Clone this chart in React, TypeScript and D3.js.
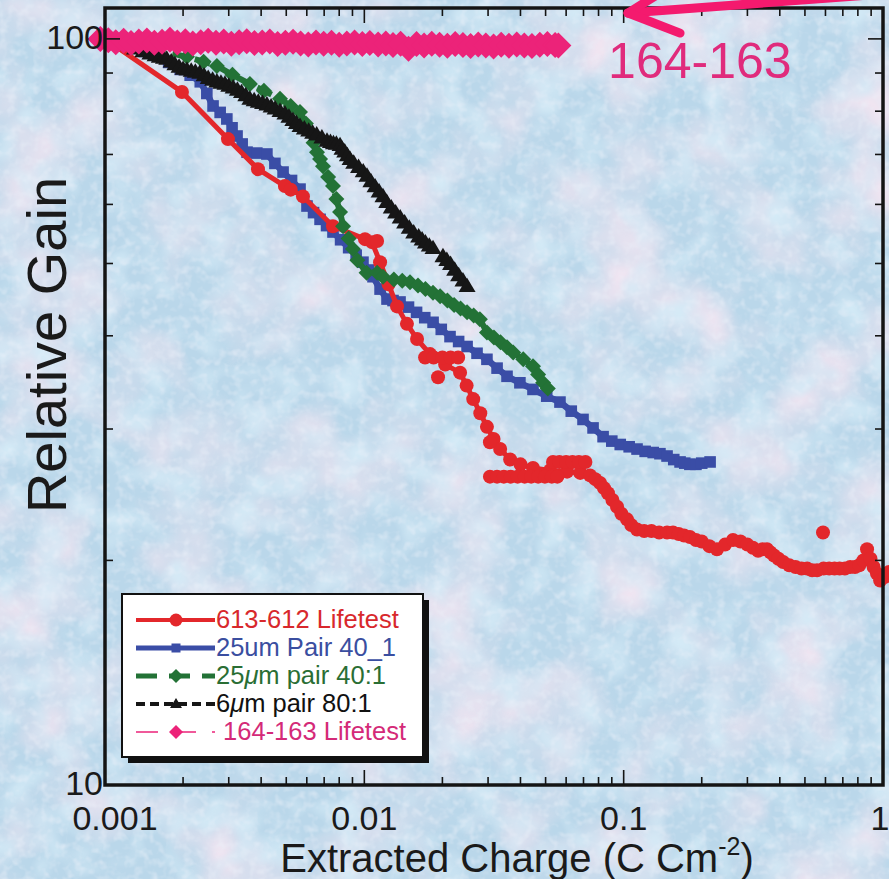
import React from "react";
import * as d3 from "d3";

type P = [number, number];

// ---------- data ----------
const lifetest613: P[] = [
  [0.001, 100], [0.00198, 84.9], [0.00298, 73.4], [0.00389, 66.9], [0.00494, 63.5], [0.0052, 62.8],
  [0.0058, 61.5], [0.00757, 56.1], [0.01006, 53.9], [0.0107, 53.4], [0.0115, 50.2], [0.0124, 46.9],
  [0.01337, 43.8], [0.0146, 41.5], [0.01597, 39.6], [0.01792, 37.8], [0.0205, 36.6], [0.0234, 35.7],
  [0.0248, 34.3], [0.0263, 32.9], [0.028, 31.5], [0.0297, 30.2], [0.0315, 29.1], [0.0334, 28.2],
  [0.0365, 27.3], [0.04, 26.9], [0.0447, 26.6], [0.052, 26.4], [0.0605, 26.3], [0.068, 26.2],
  [0.0742, 26.0], [0.0777, 25.7], [0.0811, 25.4], [0.084, 25.0], [0.087, 24.6], [0.0905, 24.1],
  [0.0943, 23.6], [0.098, 23.1], [0.103, 22.7], [0.107, 22.3], [0.1126, 22.0], [0.12, 21.9],
  [0.128, 21.9], [0.137, 21.8], [0.147, 21.8], [0.155, 21.8], [0.163, 21.7], [0.171, 21.6],
  [0.18, 21.5], [0.19, 21.3], [0.2, 21.2], [0.214, 20.9], [0.229, 20.7], [0.246, 21.0], [0.264, 21.3],
  [0.282, 21.2], [0.3, 21.0], [0.315, 20.8], [0.33, 20.6], [0.343, 20.7], [0.357, 20.7], [0.368, 20.5],
  [0.38, 20.3], [0.395, 20.1], [0.412, 19.9], [0.435, 19.7], [0.46, 19.6], [0.485, 19.5], [0.51, 19.5],
  [0.533, 19.4], [0.557, 19.4], [0.59, 19.5], [0.62, 19.5], [0.65, 19.5], [0.68, 19.5], [0.713, 19.5],
  [0.747, 19.6], [0.78, 19.6], [0.81, 19.7], [0.84, 20.0], [0.868, 20.7], [0.895, 20.1], [0.92, 19.6],
  [0.948, 19.2], [0.975, 18.8], [1.015, 19.0], [1.056, 19.3],
];
const lifetest613Extra: P[] = [
  [0.0112, 53.6], [0.01715, 37.4], [0.0185, 37.4], [0.02, 37.4], [0.0215, 37.4], [0.023, 37.4],
  [0.01924, 35.2], [0.0305, 28.8], [0.0305, 25.9], [0.0325, 25.9], [0.0345, 25.9], [0.0367, 25.9],
  [0.039, 25.9], [0.0415, 25.9], [0.044, 25.9], [0.0468, 25.9], [0.0497, 25.9], [0.0528, 25.9],
  [0.0555, 25.9], [0.0534, 27.1], [0.0565, 27.1], [0.06, 27.1], [0.0635, 27.1], [0.0672, 27.1],
  [0.0712, 27.1], [0.587, 21.8],
];
const pair25um: P[] = [
  [0.001, 100], [0.00113, 98.8], [0.00128, 97.5], [0.00142, 96.2], [0.00159, 94.9], [0.00176, 93.0],
  [0.00195, 91.0], [0.00213, 89.4], [0.00233, 87.6], [0.00247, 84.5], [0.00261, 81.3], [0.00278, 79.7],
  [0.00295, 78.1], [0.00309, 76.0], [0.00323, 74.1], [0.00338, 72.3], [0.00353, 70.5], [0.00385, 70.3],
  [0.00421, 70.1], [0.00452, 68.1], [0.00486, 66.3], [0.00524, 64.6], [0.00565, 62.9], [0.00601, 59.7],
  [0.00637, 58.5], [0.00675, 57.3], [0.00715, 56.2], [0.00757, 55.1], [0.0081, 53.8], [0.0087, 52.5],
  [0.0093, 51.3], [0.00988, 50.2], [0.0104, 49.0], [0.0108, 48.0], [0.0115, 46.2], [0.01223, 44.8],
  [0.0129, 44.6], [0.01373, 44.4], [0.0148, 43.7], [0.0159, 43.0], [0.0171, 42.3], [0.01841, 41.7],
  [0.0198, 40.8], [0.0214, 39.9], [0.0231, 39.3], [0.0249, 38.7], [0.0272, 37.9], [0.0297, 37.2],
  [0.0325, 36.2], [0.0355, 35.3], [0.0398, 34.6], [0.0447, 33.9], [0.0505, 33.2], [0.0568, 32.6],
  [0.0628, 31.7], [0.0697, 30.9], [0.0762, 30.1], [0.0833, 29.3], [0.09, 28.9], [0.097, 28.6],
  [0.105, 28.4], [0.1126, 28.2], [0.121, 28.0], [0.13, 27.9], [0.138, 27.8], [0.147, 27.6],
  [0.156, 27.3], [0.165, 27.1], [0.172, 27.0], [0.18, 26.9], [0.19, 26.9], [0.2, 27.0], [0.2154, 27.1],
];
const pair25umMu: P[] = [
  [0.001, 100], [0.00125, 98.5], [0.0016, 96.5], [0.00207, 94.6], [0.0024, 93.2], [0.0027, 92.0],
  [0.0031, 89.5], [0.00362, 87.0], [0.0041, 85.2], [0.00473, 83.1], [0.0052, 81.3], [0.00565, 79.8],
  [0.00595, 77.0], [0.00617, 75.0], [0.00637, 72.6], [0.00657, 70.5], [0.00675, 69.0], [0.00693, 67.5],
  [0.00725, 65.3], [0.00757, 63.5], [0.0078, 61.0], [0.00806, 58.6], [0.00828, 56.1], [0.0087, 54.0],
  [0.00904, 52.3], [0.0094, 50.5], [0.0102, 48.6], [0.0112, 48.6], [0.0118, 48.0], [0.013, 47.6],
  [0.014, 47.4], [0.015, 47.2], [0.0161, 46.7], [0.0172, 46.2], [0.0184, 45.7], [0.0196, 45.2],
  [0.0209, 44.6], [0.0222, 44.0], [0.0235, 43.5], [0.0249, 43.0], [0.0264, 42.6], [0.0279, 42.1],
  [0.0297, 40.4], [0.0316, 39.8], [0.0335, 39.2], [0.0355, 38.6], [0.0375, 38.0], [0.041, 37.2],
  [0.0447, 36.4], [0.0468, 35.5], [0.0489, 34.6], [0.051, 34.0],
];
const pair6um: P[] = [
  [0.001, 100], [0.0011, 99], [0.0012, 98.2], [0.0013, 97.0], [0.0014, 96.2], [0.00149, 95.5],
  [0.00156, 95.0], [0.00162, 94.6], [0.00168, 94.3], [0.00173, 94.0], [0.0018, 93.2], [0.00186, 92.4],
  [0.00193, 91.7], [0.002, 91.1], [0.00207, 90.9], [0.00215, 90.6], [0.00223, 90.3], [0.00232, 90.0],
  [0.00241, 89.3], [0.0025, 88.6], [0.0026, 88.1], [0.0027, 87.6], [0.0028, 87.3], [0.0029, 87.0],
  [0.003, 86.5], [0.00312, 86.0], [0.00324, 85.4], [0.00336, 84.8], [0.00349, 84.0], [0.00362, 83.1],
  [0.00376, 82.7], [0.0039, 82.3], [0.00405, 82.0], [0.00421, 81.6], [0.00437, 81.1], [0.00453, 80.6],
  [0.00473, 80.0], [0.00494, 79.4], [0.00512, 78.6], [0.0053, 77.8], [0.00547, 77.1], [0.00565, 76.4],
  [0.00587, 75.8], [0.0061, 75.3], [0.00632, 74.8], [0.00655, 74.4], [0.00686, 73.7], [0.00718, 73.0],
  [0.0074, 72.7], [0.0076, 72.4], [0.0078, 72.3], [0.00806, 72.0], [0.0082, 71.2], [0.0084, 70.6],
  [0.0086, 69.8], [0.00881, 69.0], [0.0091, 68.2], [0.0095, 67.3], [0.0099, 66.4], [0.01024, 65.5],
  [0.0106, 64.4], [0.011, 63.4], [0.0114, 62.4], [0.0118, 61.5], [0.0122, 60.4], [0.0127, 59.4],
  [0.0132, 58.5], [0.01375, 57.6], [0.0143, 56.7], [0.0149, 55.8], [0.0155, 55.0], [0.0162, 54.3],
  [0.0167, 53.8], [0.0172, 53.3], [0.0178, 52.8], [0.0184, 52.4], [0.0192, NaN], [0.0201, 51.1],
  [0.0208, 50.5], [0.0215, 49.9], [0.0223, 49.0], [0.0231, 48.2], [0.024, 47.4], [0.0249, 46.6],
];
const lifetest164: P[] = [
  [0.00096, 100.0], [0.00103, 99.6], [0.0011, 99.0], [0.00118, 99.4], [0.00126, 98.7], [0.00135, 99.2],
  [0.00145, 99.5], [0.00155, 98.8], [0.00166, 99.1], [0.00178, 99.7], [0.0019, 98.9], [0.00204, 99.3],
  [0.00218, 98.6], [0.00234, 99.0], [0.0025, 99.4], [0.00268, 98.8], [0.00287, 99.2], [0.00307, 98.5],
  [0.00329, 99.0], [0.00352, 99.3], [0.00377, 98.7], [0.00404, 98.9], [0.00432, 99.2], [0.00463, 98.4],
  [0.00496, 98.8], [0.00531, 99.1], [0.00568, 98.6], [0.00608, 98.3], [0.00651, 98.9], [0.00697, 98.5],
  [0.00747, 98.8], [0.008, 98.2], [0.00856, 98.6], [0.00917, 98.9], [0.00982, 98.4], [0.0105, 98.7],
  [0.0113, 98.3], [0.0121, 98.6], [0.0129, 98.1], [0.0138, 98.5], [0.0148, 97.0], [0.0159, 98.4],
  [0.017, 98.0], [0.0182, 98.5], [0.0195, 98.2], [0.0209, 97.9], [0.0224, 98.4], [0.024, 98.1],
  [0.0257, 97.8], [0.0275, 98.3], [0.0294, 98.0], [0.0315, 97.7], [0.0337, 98.2], [0.0361, 97.9],
  [0.0387, 98.3], [0.0414, 98.0], [0.0443, 97.8], [0.0475, 98.2], [0.0508, 98.4], [0.0544, 98.1],
  [0.056, 98.0],
];

const xTickValues = [0.001, 0.01, 0.1, 1];
const xTickLabels = ["0.001", "0.01", "0.1", "1"];
const yTickValues = [10, 100];
const yTickLabels = ["10", "100"];
const minorMultipliers = [2, 3, 4, 5, 6, 7, 8, 9];

const legendLabels = ["613-612 Lifetest", "25um Pair 40_1", "25μm pair 40:1", "6μm pair 80:1", " 164-163 Lifetest"];
const xAxisTitle = "Extracted Charge (C Cm";
const xAxisSup = "-2";
const yAxisTitle = "Relative Gain";
const annotationText = "164-163";
// annotation anchor points in data units
const arrowTip: P = [0.104, 108.3];
const arrowTail: P = [1.12, 115.2];
const arrowWingUp: P = [0.144, 116.3];
const arrowWingDown: P = [0.165, 101.8];
const annotationPos: P = [0.0871, 88.6];

// ---------- styles ----------
const FONT = "'Liberation Sans', Arial, Helvetica, sans-serif";
const RED = "#e3272b";
const BLUE = "#3a4da6";
const GREEN = "#237236";
const BLACK = "#161616";
const PINK = "#ec2379";

type Series = {
  data: P[];
  color: string;
  textColor: string;
  width: number;
  legendWidth: number;
  dash?: string;
  legendDash?: string;
  marker: "circle" | "square" | "diamond" | "triangle";
  msize: number;
  legendSize: number;
};

const W = 889;
const H = 879;
const M = { left: 105, right: 883, top: 8, bottom: 785 };

function Marker({ kind, x, y, s, color }: { kind: string; x: number; y: number; s: number; color: string }) {
  if (!isFinite(y)) return null;
  if (kind === "circle") return <circle cx={x} cy={y} r={s} fill={color} />;
  if (kind === "square") return <rect x={x - s} y={y - s} width={2 * s} height={2 * s} fill={color} />;
  if (kind === "diamond")
    return <path d={`M${x},${y - s}L${x + s},${y}L${x},${y + s}L${x - s},${y}Z`} fill={color} />;
  const h = s * 1.7;
  return <path d={`M${x},${y - h * 0.6}L${x + s},${y + h * 0.4}L${x - s},${y + h * 0.4}Z`} fill={color} />;
}

export default function App() {
  const x = d3.scaleLog().domain([0.001, 1]).range([M.left, M.right]);
  const y = d3.scaleLog().domain([10, 110]).range([M.bottom, M.top]);
  const line = d3
    .line<P>()
    .defined((d) => isFinite(d[1]))
    .x((d) => x(d[0]))
    .y((d) => y(d[1]));

  const series: Series[] = [
    { data: lifetest613, color: RED, textColor: "#d8282c", width: 5, legendWidth: 4, marker: "circle", msize: 7, legendSize: 6.5 },
    { data: pair25um, color: BLUE, textColor: "#3a4ea0", width: 6.5, legendWidth: 5, marker: "square", msize: 5.8, legendSize: 4.5 },
    { data: pair25umMu, color: GREEN, textColor: "#2a6e34", width: 6, legendWidth: 5, dash: "16,7", legendDash: "21,12", marker: "diamond", msize: 8, legendSize: 7 },
    { data: pair6um, color: BLACK, textColor: "#111111", width: 8, legendWidth: 4, dash: "9,4", legendDash: "9,5", marker: "triangle", msize: 8.5, legendSize: 6 },
    { data: lifetest164, color: PINK, textColor: "#d42a78", width: 1.5, legendWidth: 1.5, dash: "20,14", legendDash: "22,16", marker: "diamond", msize: 13, legendSize: 7 },
  ];
  const drawOrder = [1, 0, 2, 3, 4];

  const minorX: number[] = [];
  [0.001, 0.01, 0.1].forEach((d) => minorMultipliers.forEach((m) => minorX.push(d * m)));
  const minorY: number[] = minorMultipliers.map((m) => 10 * m);

  const legend = { x: 122, y: 594, w: 301, h: 163, row0: 628, step: 28, lx0: 136, lx1: 215, mx: 176 };

  const renderLabel = (s: string) => {
    const parts = s.split("μ");
    return parts.map((p, i) => (
      <React.Fragment key={i}>
        {i > 0 && <tspan fontStyle="italic">μ</tspan>}
        {p}
      </React.Fragment>
    ));
  };

  return (
    <svg
      width={W}
      height={H}
      viewBox={`0 0 ${W} ${H}`}
      style={{ position: "absolute", left: 0, top: 0, display: "block" }}
      fontFamily={FONT}
    >
      <defs>
        <filter id="tex" x="0" y="0" width={W} height={H} filterUnits="userSpaceOnUse">
          <feTurbulence type="fractalNoise" baseFrequency="0.012" numOctaves="3" seed="7" result="n1" />
          <feColorMatrix
            in="n1"
            type="matrix"
            values="0 0 0 0 0.87  0 0 0 0 0.78  0 0 0 0 0.88  2.4 0 0 0 -1.0"
            result="pink"
          />
          <feTurbulence type="fractalNoise" baseFrequency="0.03" numOctaves="2" seed="21" result="n3" />
          <feColorMatrix
            in="n3"
            type="matrix"
            values="0 0 0 0 0.66  0 0 0 0 0.83  0 0 0 0 0.93  0 2.4 0 0 -1.1"
            result="blue"
          />
          <feTurbulence type="fractalNoise" baseFrequency="0.12" numOctaves="2" seed="3" result="n2" />
          <feColorMatrix
            in="n2"
            type="matrix"
            values="0 0 0 0 0.84  0 0 0 0 0.88  0 0 0 0 0.95  0 1.2 0 0 -0.55"
            result="speck"
          />
          <feMerge>
            <feMergeNode in="pink" />
            <feMergeNode in="blue" />
            <feMergeNode in="speck" />
          </feMerge>
        </filter>
      </defs>

      <rect x={0} y={0} width={W} height={H} fill="#bad7ea" />
      <rect x={0} y={0} width={W} height={H} fill="#ffffff" filter="url(#tex)" />

      {/* data */}
      {drawOrder.map((i) => {
        const s = series[i];
        return (
          <g key={i}>
            <path
              d={line(s.data) || ""}
              fill="none"
              stroke={s.color}
              strokeWidth={s.width}
              strokeDasharray={s.dash}
              strokeLinejoin="round"
            />
            {s.data.map((d, j) => (
              <Marker key={j} kind={s.marker} x={x(d[0])} y={y(d[1])} s={s.msize} color={s.color} />
            ))}
            {i === 0 &&
              lifetest613Extra.map((d, j) => (
                <Marker key={"e" + j} kind="circle" x={x(d[0])} y={y(d[1])} s={s.msize} color={s.color} />
              ))}
          </g>
        );
      })}

      {/* frame */}
      <rect
        x={M.left}
        y={M.top}
        width={M.right - M.left}
        height={M.bottom - M.top}
        fill="none"
        stroke="#141414"
        strokeWidth={3.5}
      />
      {/* ticks */}
      <g stroke="#141414" strokeWidth={1.6}>
        {minorX.map((v, i) => (
          <g key={"mx" + i}>
            <line x1={x(v)} x2={x(v)} y1={M.bottom} y2={M.bottom - 8} />
            <line x1={x(v)} x2={x(v)} y1={M.top} y2={M.top + 8} />
          </g>
        ))}
        {xTickValues.map((v, i) => (
          <g key={"Mx" + i}>
            <line x1={x(v)} x2={x(v)} y1={M.bottom} y2={M.bottom - 15} />
            <line x1={x(v)} x2={x(v)} y1={M.top} y2={M.top + 15} />
          </g>
        ))}
        {minorY.map((v, i) => (
          <g key={"my" + i}>
            <line x1={M.left} x2={M.left + 8} y1={y(v)} y2={y(v)} />
            <line x1={M.right} x2={M.right - 8} y1={y(v)} y2={y(v)} />
          </g>
        ))}
        {yTickValues.map((v, i) => (
          <g key={"My" + i}>
            <line x1={M.left} x2={M.left + 15} y1={y(v)} y2={y(v)} />
            <line x1={M.right} x2={M.right - 15} y1={y(v)} y2={y(v)} />
          </g>
        ))}
      </g>

      {/* tick labels */}
      <g fill="#1a1a1a" fontSize={34}>
        {xTickValues.map((v, i) => (
          <text
            key={"xl" + i}
            x={x(v) + (i === 0 ? 10 : i === xTickValues.length - 1 ? -3 : 0)}
            y={830}
            textAnchor="middle"
          >
            {xTickLabels[i]}
          </text>
        ))}
        {yTickValues.map((v, i) => (
          <text key={"yl" + i} x={M.left - 2} y={y(v) + 10} textAnchor="end">
            {yTickLabels[i]}
          </text>
        ))}
      </g>

      {/* axis titles */}
      <text x={517} y={872} textAnchor="middle" fontSize={40} fill="#1a1a1a">
        {xAxisTitle}
        <tspan fontSize={25} dy={-17}>
          {xAxisSup}
        </tspan>
        <tspan dy={17}>)</tspan>
      </text>
      <text transform={`translate(66,${345}) rotate(-90)`} textAnchor="middle" fontSize={56} fill="#1a1a1a">
        {yAxisTitle}
      </text>

      {/* annotation */}
      <g stroke="#f41a6e" strokeWidth={9} strokeLinecap="round" strokeLinejoin="round" fill="none">
        <line x1={x(arrowTip[0])} y1={y(arrowTip[1])} x2={x(arrowTail[0])} y2={y(arrowTail[1])} />
        <line x1={x(arrowTip[0])} y1={y(arrowTip[1])} x2={x(arrowWingUp[0])} y2={y(arrowWingUp[1])} />
        <line x1={x(arrowTip[0])} y1={y(arrowTip[1])} x2={x(arrowWingDown[0])} y2={y(arrowWingDown[1])} />
      </g>
      <text x={x(annotationPos[0])} y={y(annotationPos[1])} fontSize={50} fill="#e02b7c">
        {annotationText}
      </text>

      {/* legend */}
      <rect x={legend.x + 6} y={legend.y + 6} width={legend.w} height={legend.h} fill="#111" />
      <rect x={legend.x} y={legend.y} width={legend.w} height={legend.h} fill="#ffffff" stroke="#111" strokeWidth={2} />
      {series.map((s, i) => {
        const by = legend.row0 + i * legend.step;
        const ly = by - 8;
        return (
          <g key={"lg" + i}>
            <line
              x1={legend.lx0}
              x2={legend.lx1}
              y1={ly}
              y2={ly}
              stroke={s.color}
              strokeWidth={s.legendWidth}
              strokeDasharray={s.legendDash}
            />
            <Marker kind={s.marker} x={legend.mx} y={ly} s={s.legendSize} color={s.color} />
            <text x={legend.lx1 + 1} y={by} fontSize={25.5} fill={s.textColor} style={{ whiteSpace: "pre" }}>
              {renderLabel(legendLabels[i])}
            </text>
          </g>
        );
      })}
    </svg>
  );
}
